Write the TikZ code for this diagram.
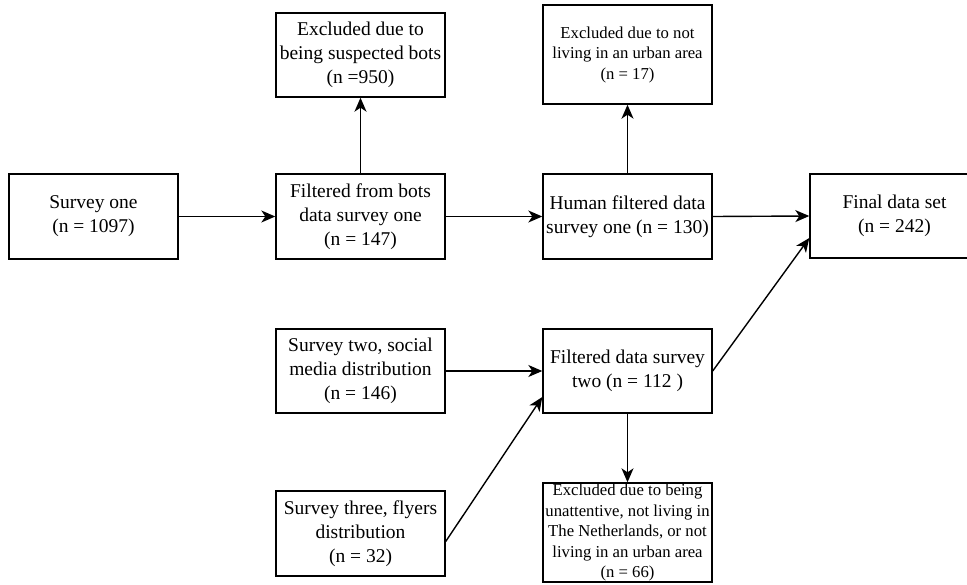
\documentclass[tikz,border=0pt]{standalone}
\usepackage{fontspec}
\setmainfont{Liberation Serif}
\usetikzlibrary{arrows.meta}

\tikzset{
  box/.style={draw=black, line width=1.4pt, minimum width=169pt, align=center,
    inner sep=0pt, font=\fontsize{19.5}{24}\selectfont},
  smallbox/.style={box, font=\fontsize{16.7}{20.5}\selectfont},
  flow/.style={draw=black, line width=1.4pt,
    -{Stealth[length=14pt, width=12pt, inset=4pt]}},
}

\begin{document}
\begin{tikzpicture}[x=1pt, y=-1pt]
  \useasboundingbox (0,0) rectangle (967,584);

  % first survey chain
  \node[box, minimum height=85pt] (s1)  at (93.5,216.5) {Survey one\\(n = 1097)};
  \node[box, minimum height=85pt] (fb)  at (360.5,216.5) {Filtered from bots\\data survey one\\(n = 147)};
  \node[box, minimum height=84pt] (xb)  at (360.5,55) {Excluded due to\\being suspected bots\\(n =950)};
  \node[box, minimum height=85pt] (hf)  at (627.5,216.5) {Human filtered data\\survey one (n = 130)};
  \node[smallbox, minimum height=99pt] (xu) at (627.5,54.5) {Excluded due to not\\living in an urban area\\(n = 17)};
  \node[box, minimum height=84pt] (fin) at (894.5,216) {Final data set\\(n = 242)};

  % second and third surveys
  \node[box, minimum height=84pt] (s2)  at (360.5,371) {Survey two, social\\media distribution\\(n = 146)};
  \node[box, minimum height=84pt] (f2)  at (627.5,371) {Filtered data survey\\two (n = 112 )};
  \node[box, minimum height=85pt] (s3)  at (360.5,533.5) {Survey three, flyers\\distribution\\(n = 32)};
  \node[smallbox, minimum height=99pt] (xa) at (627.5,532.5) {Excluded due to being\\unattentive, not living in\\The Netherlands, or not\\living in an urban area\\(n = 66)};

  % connectors
  \draw[flow] (s1.east) -- (fb.west);
  \draw[flow] (fb.north) -- (xb.south);
  \draw[flow] (fb.east) -- (hf.west);
  \draw[flow] (hf.north) -- (xu.south);
  \draw[flow] (hf.east) -- (fin.west);
  \draw[flow] (s2.east) -- (f2.west);
  \draw[flow] ([yshift=-8pt]s3.east) -- ([yshift=-26pt]f2.west);
  \draw[flow] (f2.east) -- ([yshift=-22pt]fin.west);
  \draw[flow] (f2.south) -- (xa.north);
\end{tikzpicture}
\end{document}
